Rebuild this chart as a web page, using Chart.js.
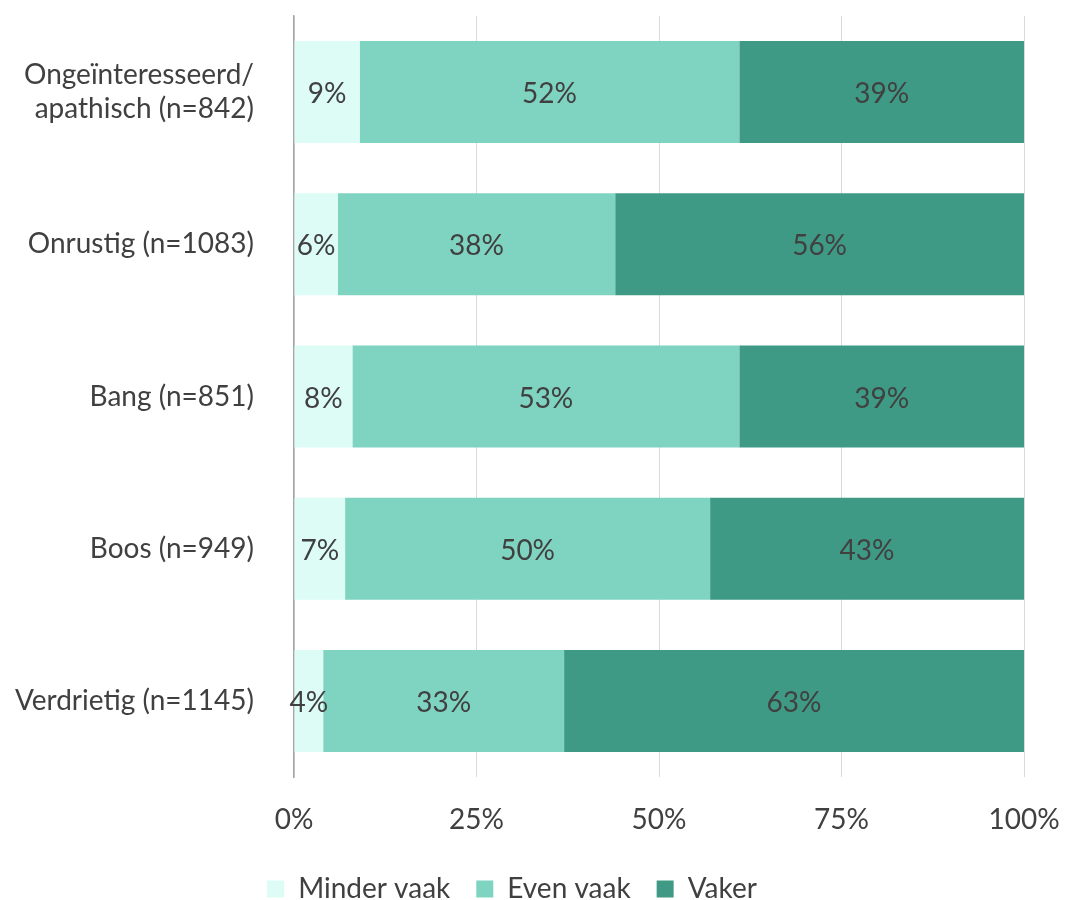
<!DOCTYPE html>
<html>
<head>
<meta charset="utf-8">
<script src="https://cdn.jsdelivr.net/npm/chart.js@4"></script>
<style>
  html, body { margin: 0; padding: 0; background: #fff; }
  #wrap { width: 1065px; height: 900px; }
</style>
</head>
<body>
<div id="wrap"><canvas id="chart" width="1065" height="900"></canvas></div>
<script>
const categories = [
    ['Ongeïnteresseerd/', 'apathisch (n=842)'],
    'Onrustig (n=1083)',
    'Bang (n=851)',
    'Boos (n=949)',
    'Verdrietig (n=1145)'
];
const minderVaak = [9, 6, 8, 7, 4];
const evenVaak = [52, 38, 53, 50, 33];
const vaker = [39, 56, 39, 43, 63];
const xTicks = [0, 25, 50, 75, 100];

const textColor = '#404040';
const fontFamily = 'Lato, "Open Sans", sans-serif';

// draws the percentage in the middle of every bar segment
const segmentLabels = {
    id: 'segmentLabels',
    afterDatasetsDraw(chart) {
        const ctx = chart.ctx;
        ctx.save();
        ctx.font = '28px ' + fontFamily;
        ctx.fillStyle = textColor;
        ctx.textAlign = 'center';
        ctx.textBaseline = 'middle';
        chart.data.datasets.forEach(function(ds, i) {
            chart.getDatasetMeta(i).data.forEach(function(bar, j) {
                const x = (bar.x + bar.base) / 2;
                ctx.fillText(ds.data[j] + '%', x, bar.y + 2);
            });
        });
        ctx.restore();
    }
};

new Chart(document.getElementById('chart'), {
    type: 'bar',
    data: {
        labels: categories,
        datasets: [
            { label: 'Minder vaak', data: minderVaak, backgroundColor: '#dcfcf5' },
            { label: 'Even vaak', data: evenVaak, backgroundColor: '#7fd3c1' },
            { label: 'Vaker', data: vaker, backgroundColor: '#3f9a85' }
        ]
    },
    options: {
        indexAxis: 'y',
        responsive: false,
        animation: false,
        layout: { padding: { top: 16, right: 41, left: 0, bottom: -13 } },
        datasets: {
            bar: { barPercentage: 0.67, categoryPercentage: 1 }
        },
        scales: {
            x: {
                stacked: true,
                min: 0,
                max: 100,
                afterBuildTicks(scale) {
                    scale.ticks = xTicks.map(v => ({ value: v }));
                },
                afterFit(scale) {
                    scale.height = 72;
                    scale.paddingLeft = 0;
                    scale.paddingRight = 0;
                },
                grid: { color: '#d9d9d9', drawTicks: false },
                border: { display: false },
                ticks: {
                    padding: 26,
                    color: textColor,
                    font: { size: 28, family: fontFamily },
                    callback: v => v + '%'
                }
            },
            y: {
                stacked: true,
                afterFit(scale) {
                    scale.width = 294;
                    scale.paddingTop = 0;
                    scale.paddingBottom = 0;
                },
                grid: { display: false },
                border: { color: '#a6a6a6', width: 1.5 },
                ticks: {
                    padding: 32,
                    color: textColor,
                    font: { size: 28, family: fontFamily, lineHeight: 1.2 }
                }
            }
        },
        plugins: {
            legend: {
                position: 'bottom',
                labels: {
                    boxWidth: 17,
                    boxHeight: 17,
                    padding: 26,
                    color: textColor,
                    font: { size: 28, family: fontFamily }
                }
            },
            tooltip: { enabled: false }
        }
    },
    plugins: [segmentLabels]
});
</script>
</body>
</html>
